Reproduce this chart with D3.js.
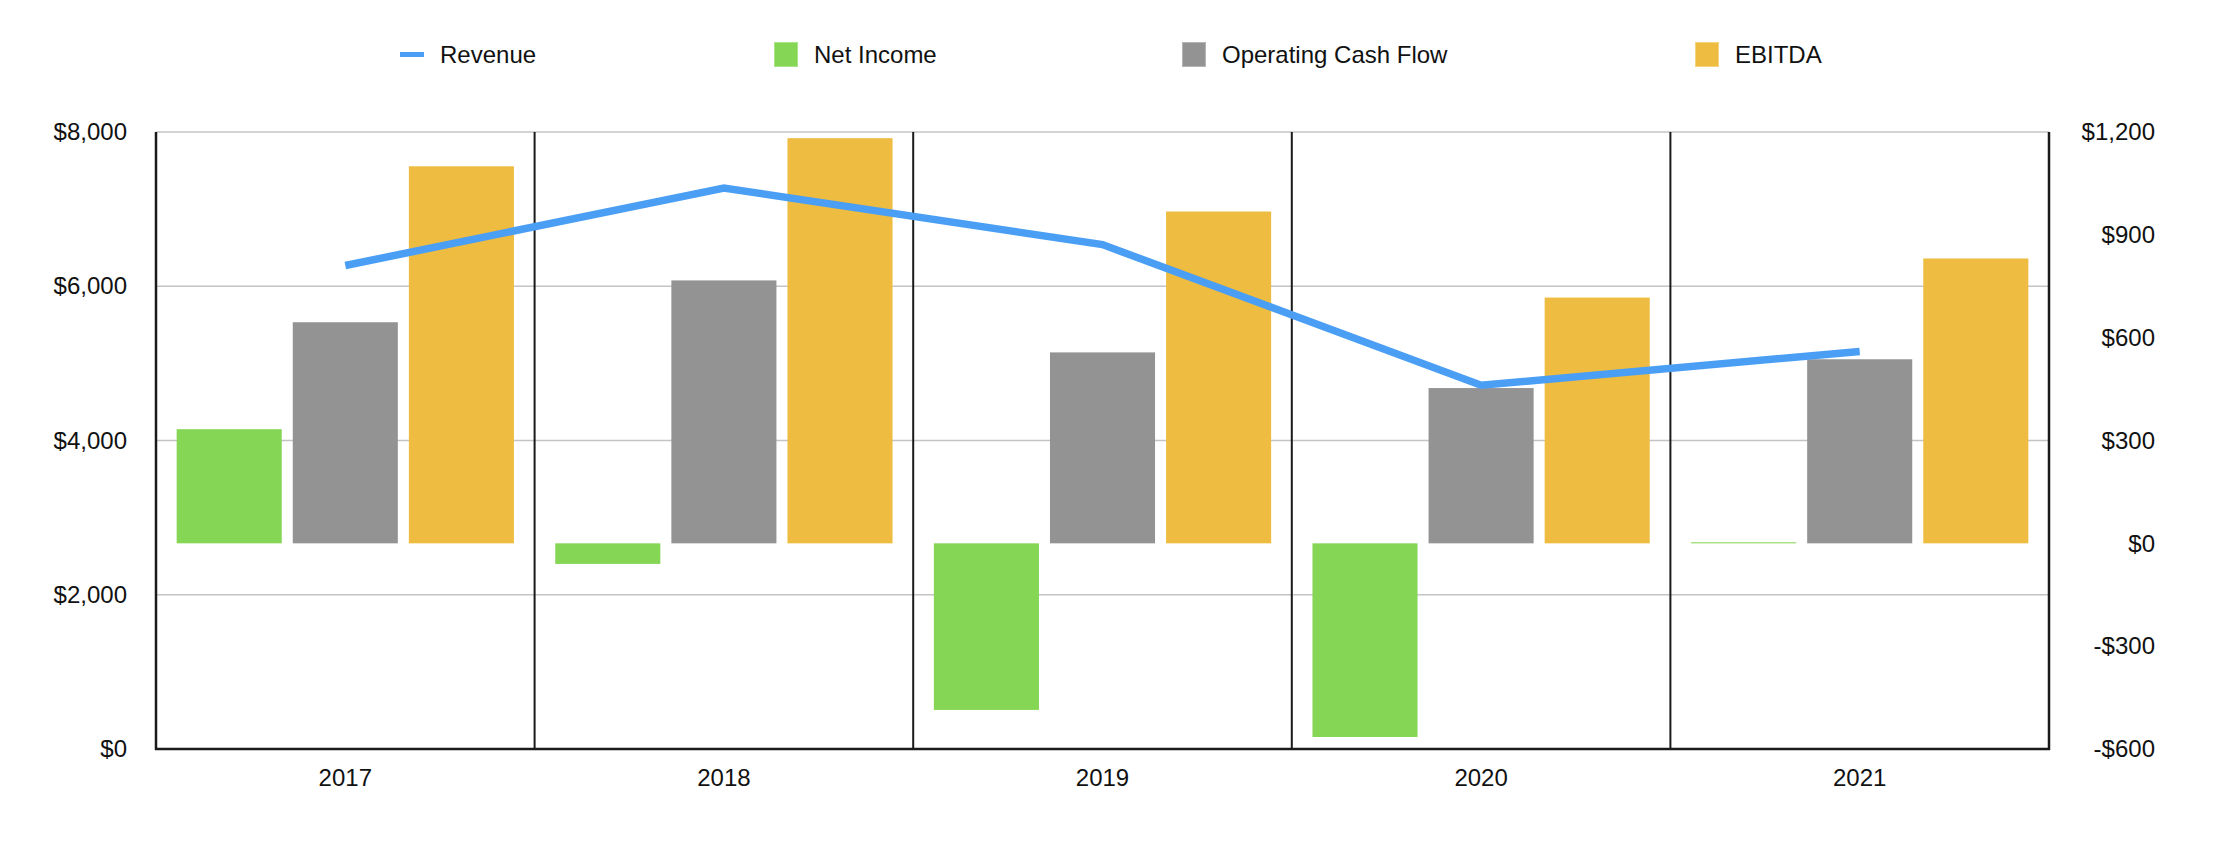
<!DOCTYPE html>
<html><head><meta charset="utf-8">
<script src="https://cdn.jsdelivr.net/npm/d3@7"></script>
<style>body{margin:0;background:#fff}svg{display:block}</style>
</head><body><svg id="c" width="2214" height="842"></svg>
<script>
const years = ["2017", "2018", "2019", "2020", "2021"];
const revenue = [6269, 7274, 6540, 4716, 5155];
const netIncome = [333, -60, -486, -565, 3];
const operatingCashFlow = [645, 767, 557, 453, 537];
const ebitda = [1100, 1182, 968, 717, 831];
const leftTicks = [0, 2000, 4000, 6000, 8000];
const rightTicks = [-600, -300, 0, 300, 600, 900, 1200];
const seriesNames = ["Revenue", "Net Income", "Operating Cash Flow", "EBITDA"];

const barSeries = [
  {name: "Net Income", values: netIncome, color: "#84d654", light: "#a9e487"},
  {name: "Operating Cash Flow", values: operatingCashFlow, color: "#939393", light: "#b5b5b5"},
  {name: "EBITDA", values: ebitda, color: "#eebc41", light: "#f4d27e"}
];
const lineColor = "#4a9ff5";

const W = 2214, H = 842;
const m = {left: 156, right: 2049, top: 132, bottom: 749};
const font = "'Helvetica Neue', Helvetica, Arial, 'Liberation Sans', sans-serif";
const svg = d3.select("#c").style("font-family", font);

const x0 = d3.scaleBand().domain(years).range([m.left, m.right]).padding(0);
const x1 = d3.scaleBand().domain(barSeries.map(s => s.name))
  .range([0, x0.bandwidth()]).paddingInner(0.095).paddingOuter(0.178);
const yL = d3.scaleLinear().domain([0, 8000]).range([m.bottom, m.top]);
const yR = d3.scaleLinear().domain([-600, 1200]).range([m.bottom, m.top]);

const fmt = d3.format(",");
const money = v => (v < 0 ? "-$" : "$") + fmt(Math.abs(v));

// gridlines
svg.append("g").selectAll("line").data(leftTicks.filter(t => t !== 0)).join("line")
  .attr("x1", m.left).attr("x2", m.right)
  .attr("y1", d => yL(d)).attr("y2", d => yL(d))
  .attr("stroke", "#c4c4c4").attr("stroke-width", 1.5);

// category dividers
svg.append("g").selectAll("line").data(years.slice(1)).join("line")
  .attr("x1", d => x0(d)).attr("x2", d => x0(d))
  .attr("y1", m.top).attr("y2", m.bottom)
  .attr("stroke", "#1a1a1a").attr("stroke-width", 2);

// bars
barSeries.forEach(s => {
  svg.append("g").selectAll("rect").data(s.values.map((v, i) => ({v, year: years[i]}))).join("rect")
    .attr("x", d => x0(d.year) + x1(s.name))
    .attr("width", x1.bandwidth())
    .attr("y", d => Math.min(yR(d.v), yR(0)))
    .attr("height", d => Math.max(Math.abs(yR(d.v) - yR(0)), 1))
    .attr("fill", s.color);
});

// revenue line
const line = d3.line()
  .x((d, i) => x0(years[i]) + x0.bandwidth() / 2)
  .y(d => yL(d));
svg.append("path").datum(revenue).attr("d", line)
  .attr("fill", "none").attr("stroke", lineColor).attr("stroke-width", 7.5)
  .attr("stroke-linejoin", "miter").attr("stroke-linecap", "butt");

// axes frame
const frame = svg.append("g").attr("stroke", "#1a1a1a").attr("stroke-width", 2.5);
frame.append("line").attr("x1", m.left).attr("x2", m.left).attr("y1", m.top).attr("y2", m.bottom + 1);
frame.append("line").attr("x1", m.right).attr("x2", m.right).attr("y1", m.top).attr("y2", m.bottom + 1);
frame.append("line").attr("x1", m.left - 1).attr("x2", m.right + 1).attr("y1", m.bottom).attr("y2", m.bottom);

// left axis
const gl = svg.append("g").attr("transform", `translate(${m.left},0)`)
  .call(d3.axisLeft(yL).tickValues(leftTicks).tickSize(0).tickPadding(29).tickFormat(money));
gl.select(".domain").remove();
gl.selectAll("text").attr("font-size", 24).attr("font-family", font).attr("fill", "#111");

// right axis
const gr = svg.append("g").attr("transform", `translate(${m.right},0)`)
  .call(d3.axisRight(yR).tickValues(rightTicks).tickSize(0).tickFormat(money));
gr.select(".domain").remove();
gr.selectAll("text").attr("font-size", 24).attr("font-family", font).attr("fill", "#111")
  .attr("text-anchor", "end").attr("x", 106);

// bottom axis
const gb = svg.append("g").attr("transform", `translate(0,${m.bottom})`)
  .call(d3.axisBottom(x0).tickSize(0).tickPadding(20));
gb.select(".domain").remove();
gb.selectAll("text").attr("font-size", 24).attr("font-family", font).attr("fill", "#111");

// legend (item start positions as laid out in the reference)
const legendX = [400, 774, 1182, 1695];
const leg = svg.append("g");
seriesNames.forEach((name, i) => {
  const g = leg.append("g").attr("transform", `translate(${legendX[i]},0)`);
  if (name === "Revenue") {
    g.append("rect").attr("x", 0).attr("y", 52).attr("width", 24).attr("height", 5).attr("fill", lineColor);
  } else {
    const s = barSeries.find(b => b.name === name);
    g.append("rect").attr("x", 0.5).attr("y", 42.5).attr("width", 23).attr("height", 24)
      .attr("fill", s.color).attr("stroke", s.light).attr("stroke-width", 1);
  }
  g.append("text").attr("x", 40).attr("y", 63).attr("font-size", 24)
    .attr("fill", "#111").text(name);
});
</script>
</body></html>
